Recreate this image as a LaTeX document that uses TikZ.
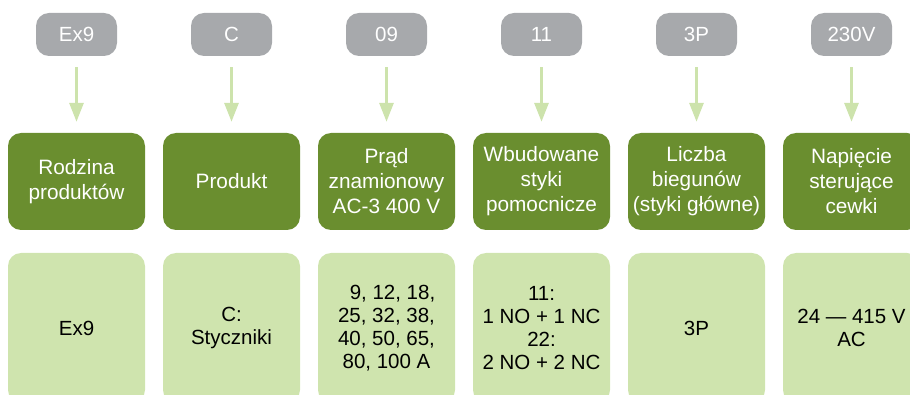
\documentclass[tikz,border=0pt]{standalone}
\usepackage{fontspec}
\setmainfont{Liberation Sans}
\usetikzlibrary{arrows.meta}
\definecolor{dkgreen}{HTML}{6A8E2F}
\definecolor{ltgreen}{HTML}{CFE4AE}
\definecolor{arrgreen}{HTML}{CDE3AC}
\definecolor{pillgray}{HTML}{A7A9AC}
\begin{document}
\begin{tikzpicture}[x=1pt,y=-1pt,
  pill/.style={fill=pillgray, rounded corners=13pt, minimum width=81pt, minimum height=43pt, inner sep=0pt, text=white, font=\fontsize{20.5}{24}\selectfont},
  head/.style={fill=dkgreen, rounded corners=13pt, minimum width=137pt, minimum height=97pt, inner sep=0pt, text=white, align=center, font=\fontsize{20.8}{25}\selectfont},
  info/.style={fill=ltgreen, rounded corners=13pt, minimum width=137pt, minimum height=150pt, inner sep=0pt, text=black, align=center, font=\fontsize{20.5}{22.8}\selectfont},
  arr/.style={draw=arrgreen, line width=3pt, -{Triangle[width=14pt,length=19pt]}}
]
\useasboundingbox (0,0) rectangle (910,395);
\clip (0,0) rectangle (910,395);

\node[pill] (p1) at (76.5,34.5) {Ex9};
\node[pill] (p2) at (231.5,34.5) {C};
\node[pill] (p3) at (386.5,34.5) {09};
\node[pill] (p4) at (541.5,34.5) {11};
\node[pill] (p5) at (696.5,34.5) {3P};
\node[pill] (p6) at (851.5,34.5) {230V};

\node[head] (h1) at (76.5,181.5) {Rodzina\\produktów};
\node[head] (h2) at (231.5,181.5) {Produkt};
\node[head] (h3) at (386.5,181.5) {Prąd\\znamionowy\\AC-3 400 V};
\node[head] (h4) at (541.5,181.5) {Wbudowane\\styki\\pomocnicze};
\node[head] (h5) at (696.5,181.5) {Liczba\\biegunów\\(styki główne)};
\node[head] (h6) at (851.5,181.5) {Napięcie\\sterujące\\cewki};

\node[info] (i1) at (76.5,328) {Ex9};
\node[info] (i2) at (231.5,328) {C:\\Styczniki};
\node[info] (i3) at (386.5,328) {\hspace*{12pt}9, 12, 18,\\25, 32, 38,\\40, 50, 65,\\80, 100 A};
\node[info] (i4) at (541.5,328) {11:\\1 NO + 1 NC\\22:\\2 NO + 2 NC};
\node[info] (i5) at (696.5,328) {3P};
\node[info] (i6) at (851.5,328) {24 — 415 V\\AC};

\foreach \k in {1,...,6}
  \draw[arr] ([yshift=-11pt]p\k.south) -- ([yshift=11pt]h\k.north);
\end{tikzpicture}
\end{document}
